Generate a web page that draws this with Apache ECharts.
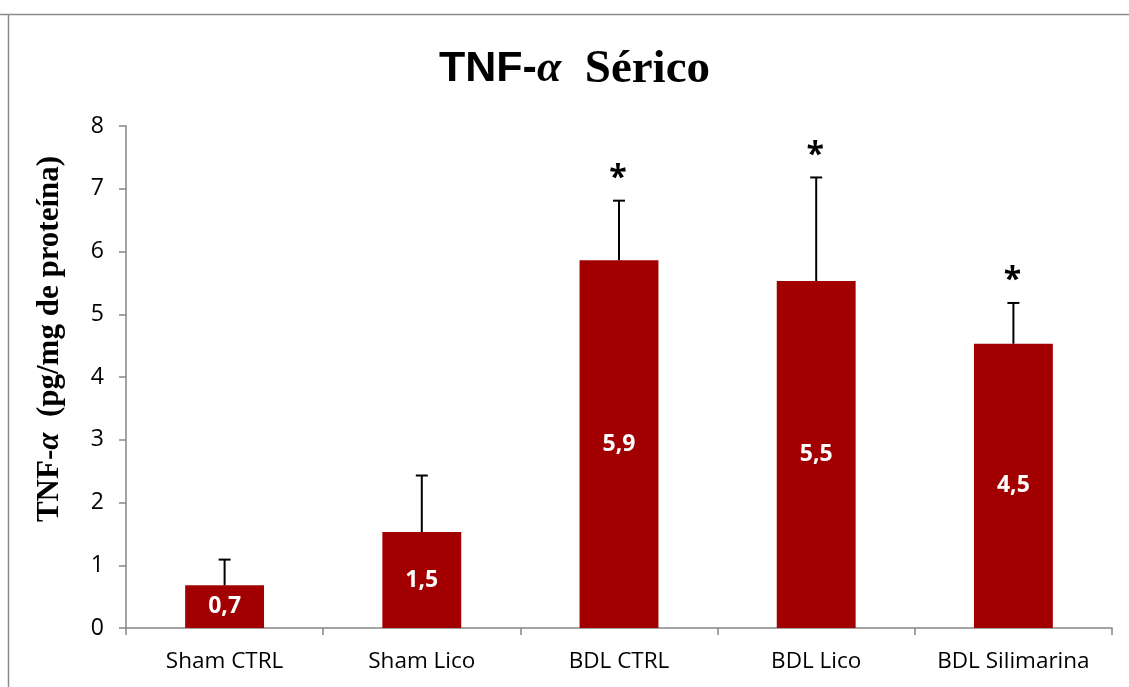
<!DOCTYPE html>
<html>
<head>
<meta charset="utf-8">
<script src="https://cdn.jsdelivr.net/npm/echarts@6/dist/echarts.min.js"></script>
<style>
html,body{margin:0;padding:0;background:#fff;}
#chart{width:1129px;height:687px;}
</style>
</head>
<body>
<div id="chart"></div>
<script>
const categories = ['Sham CTRL', 'Sham Lico', 'BDL CTRL', 'BDL Lico', 'BDL Silimarina'];
const means = [0.68, 1.53, 5.86, 5.53, 4.53];
const errors = [0.41, 0.90, 0.95, 1.65, 0.65];
const significance = ['', '', '*', '*', '*'];
const yTicks = [0, 1, 2, 3, 4, 5, 6, 7, 8];

const chart = echarts.init(document.getElementById('chart'));
const axisColor = '#868686';
const labelFont = '"Open Sans", sans-serif';
const serif = '"Liberation Serif", "DejaVu Serif", serif';

const option = {
  backgroundColor: '#fff',
  animation: false,
  graphic: [
    { type: 'line', shape: { x1: 0, y1: 14.5, x2: 1129, y2: 14.5 }, style: { stroke: '#8a8a8a', lineWidth: 1.5 } },
    { type: 'line', shape: { x1: 8.5, y1: 14, x2: 8.5, y2: 687 }, style: { stroke: '#8a8a8a', lineWidth: 1.5 } }
  ],
  title: {
    text: '{a|TNF-}{b|α}{c|  Sérico}',
    left: 434,
    top: 41,
    textStyle: {
      rich: {
        a: { fontFamily: '"Liberation Sans", Arial, sans-serif', fontWeight: 'bold', fontSize: 43, color: '#000' },
        b: { fontFamily: serif, fontStyle: 'italic', fontSize: 44, color: '#000' },
        c: { fontFamily: serif, fontWeight: 'bold', fontSize: 47, color: '#000' }
      }
    }
  },
  grid: { left: 126, right: 17, top: 126, bottom: 59, containLabel: false },
  xAxis: {
    type: 'category',
    data: categories,
    axisLine: { lineStyle: { color: axisColor, width: 1.5 } },
    axisTick: { show: true, alignWithLabel: false, interval: 0, length: 7, lineStyle: { color: axisColor, width: 1.5 } },
    axisLabel: { color: '#000', fontFamily: labelFont, fontSize: 22.5, margin: 22, interval: 0 }
  },
  yAxis: {
    type: 'value',
    min: 0,
    max: 8,
    interval: 1,
    splitLine: { show: false },
    axisLine: { show: true, lineStyle: { color: axisColor, width: 1.5 } },
    axisTick: { show: true, length: 7, lineStyle: { color: axisColor, width: 1.5 } },
    axisLabel: {
      color: '#000', fontFamily: labelFont, fontSize: 23, margin: 22,
      formatter: v => yTicks.includes(v) ? String(v) : ''
    },
    name: '{a|TNF-}{b|α}{a|  (pg/mg de proteína)}',
    nameLocation: 'middle',
    nameRotate: 90,
    nameGap: 61,
    nameTextStyle: {
      padding: [0, 0, 0, 76],
      rich: {
        a: { fontFamily: serif, fontWeight: 'bold', fontSize: 31, color: '#000' },
        b: { fontFamily: serif, fontStyle: 'italic', fontWeight: 'bold', fontSize: 31, color: '#000' }
      }
    }
  },
  series: [
    {
      type: 'bar',
      data: means,
      barWidth: '40%',
      itemStyle: { color: '#A20000' },
      label: {
        show: true,
        position: 'inside',
        color: '#fff',
        fontFamily: labelFont,
        fontWeight: 'bold',
        fontSize: 23,
        formatter: p => p.value.toFixed(1).replace('.', ',')
      },
      z: 2
    },
    {
      type: 'custom',
      data: means.map((m, i) => [i, m, errors[i]]),
      z: 3,
      renderItem: function (params, api) {
        const i = api.value(0);
        const m = api.value(1);
        const e = api.value(2);
        const base = api.coord([i, m]);
        const top = api.coord([i, m + e]);
        const half = 6;
        const children = [
          { type: 'line', shape: { x1: base[0], y1: base[1], x2: top[0], y2: top[1] }, style: { stroke: '#000', lineWidth: 2 } },
          { type: 'line', shape: { x1: top[0] - half, y1: top[1], x2: top[0] + half, y2: top[1] }, style: { stroke: '#000', lineWidth: 2 } }
        ];
        const s = significance[i];
        if (s) {
          children.push({
            type: 'text',
            style: {
              text: s, x: top[0] - 1, y: top[1] - 22,
              align: 'center', verticalAlign: 'middle',
              font: 'bold 32px ' + labelFont, fill: '#000'
            }
          });
        }
        return { type: 'group', children };
      }
    }
  ]
};
chart.setOption(option);
</script>
</body>
</html>
